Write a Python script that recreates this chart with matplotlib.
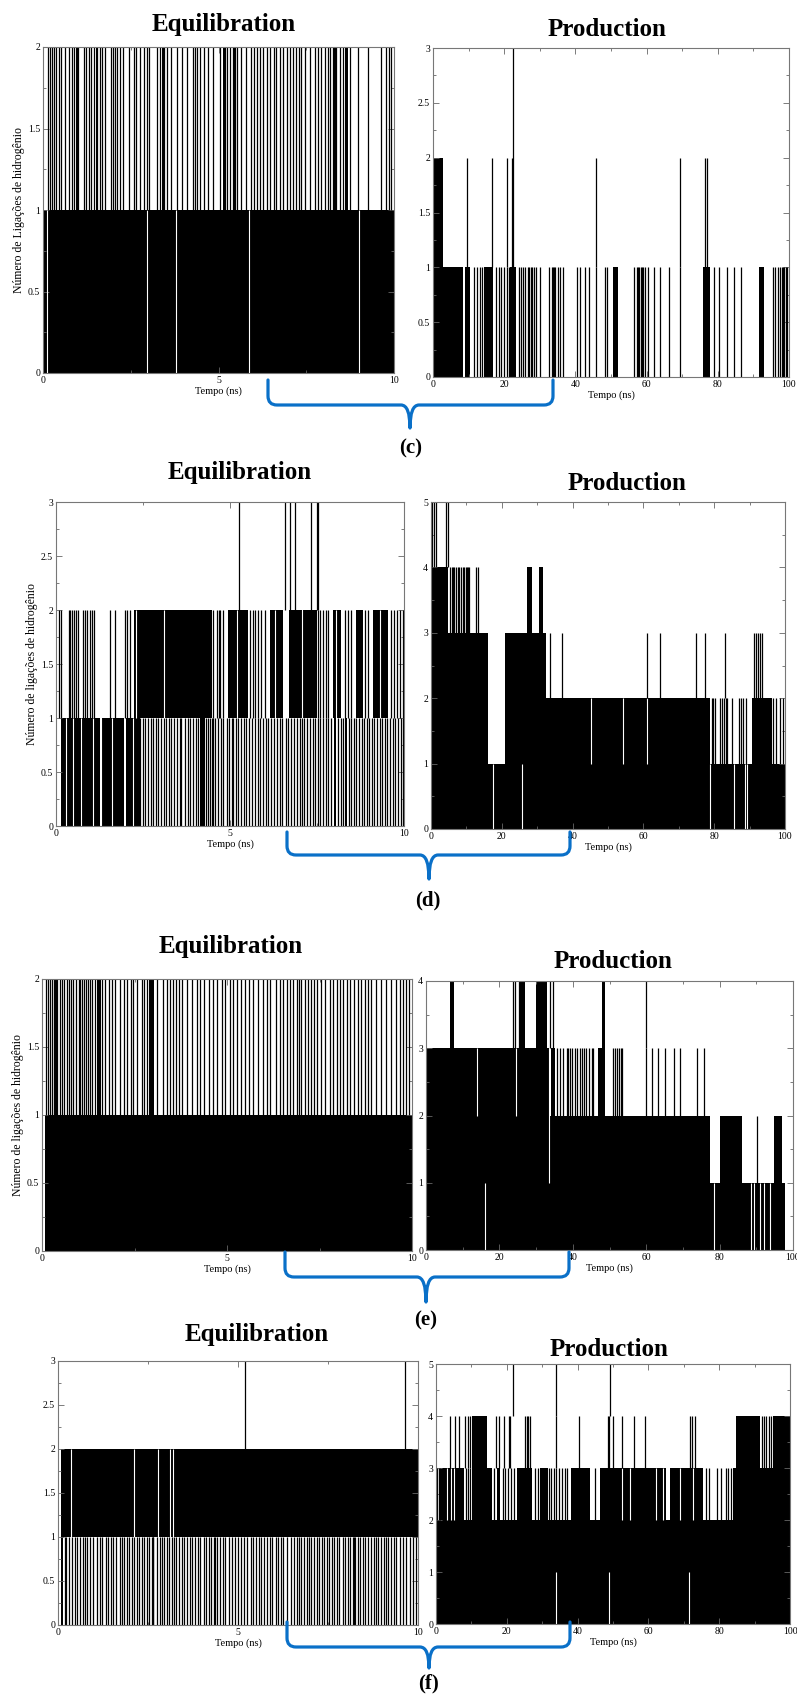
import matplotlib
matplotlib.use('Agg')
import matplotlib.pyplot as plt
from matplotlib.path import Path
from matplotlib.patches import PathPatch
from matplotlib.ticker import MultipleLocator, FuncFormatter

W, H = 797, 1698
plt.rcParams['font.family'] = ['Liberation Serif', 'DejaVu Serif']

# Hydrogen bond count traces.
# blocks: (t0, t1, n_lo, n_hi) regions that are solid black (dense switching)
# lines:  {(n_lo, n_hi): [times]} single transitions drawn as black strokes
# gaps:   {(n_lo, n_hi): [times]} white strokes inside a black block

# ---- (c) ----
c_eq_blocks = [(0.0, 10.0, 0, 1), (0.95, 1.02, 1, 2), (1.5, 1.58, 1, 2), (3.4, 3.47, 1, 2),
               (5.12, 5.2, 1, 2), (5.42, 5.5, 1, 2), (8.28, 8.36, 1, 2), (8.6, 8.7, 1, 2)]
c_eq_lines = {(1, 2): [0.13, 0.19, 0.26, 0.30, 0.38, 0.45, 0.51, 0.64, 0.73, 0.82, 0.89, 0.99,
                       1.18, 1.23, 1.30, 1.36, 1.44, 1.55, 1.61, 1.68, 1.77, 1.93, 1.99, 2.06,
                       2.12, 2.20, 2.27, 2.46, 2.58, 2.65, 2.75, 2.88, 2.96, 3.03, 3.24, 3.34,
                       3.45, 3.53, 3.64, 3.83, 3.95, 4.09, 4.27, 4.33, 4.40, 4.47, 4.59, 4.71,
                       4.85, 5.04, 5.18, 5.25, 5.33, 5.40, 5.47, 5.54, 5.63, 5.78, 5.94, 6.01,
                       6.09, 6.18, 6.27, 6.37, 6.48, 6.58, 6.65, 6.75, 6.84, 6.94, 7.05, 7.13,
                       7.22, 7.30, 7.36, 7.46, 7.60, 7.74, 7.84, 7.93, 8.03, 8.12, 8.17, 8.27,
                       8.36, 8.45, 8.55, 8.64, 8.74, 8.98, 9.26, 9.64, 9.78, 9.86, 9.92]}
c_eq_gaps = {(0, 1): [0.11, 2.95, 3.8, 5.86, 9.0]}

c_pr_blocks = [(0, 2.8, 0, 2), (2.8, 8.3, 0, 1), (8.9, 10.3, 0, 1), (14.4, 16.8, 0, 1),
               (21.7, 23.4, 0, 1), (50.7, 52.0, 0, 1), (75.8, 77.7, 0, 1), (91.5, 92.9, 0, 1)]
c_pr_lines = {(0, 1): [11.6, 12.4, 13.1, 13.8, 17.8, 18.4, 19.1, 19.9, 20.8, 21.3, 24.1, 24.7,
                       25.3, 25.9, 26.6, 27.0, 27.4, 27.8, 28.5, 29.0, 30.1, 32.5, 33.4, 33.8,
                       34.1, 34.4, 35.1, 35.6, 36.4, 40.4, 41.2, 42.8, 43.7, 45.8, 48.4, 49.0,
                       56.6, 57.2, 57.6, 58.0, 58.4, 58.7, 59.1, 59.6, 60.3, 62.0, 63.9, 66.2,
                       69.5, 78.8, 80.2, 82.6, 84.6, 86.5, 95.5, 96.2, 96.8, 97.5, 97.9, 98.3,
                       98.7, 99.1, 99.4],
              (1, 2): [9.5, 16.5, 20.9, 22.2, 45.8, 69.5, 76.5, 77.0],
              (0, 3): [22.4]}
c_pr_gaps = {}

# ---- (d) ----
d_eq_blocks = [(2.23, 4.47, 1, 2), (4.95, 5.53, 1, 2), (6.15, 6.53, 1, 2), (6.7, 7.06, 1, 2),
               (7.1, 7.49, 1, 2), (7.96, 8.2, 1, 2), (8.63, 8.82, 1, 2), (9.11, 9.54, 1, 2),
               (0.15, 1.27, 0, 1), (1.32, 1.95, 0, 1), (2.0, 2.4, 0, 1), (4.15, 4.28, 0, 1),
               (7.98, 8.06, 0, 1), (8.3, 8.36, 0, 1)]
d_eq_lines = {(1, 2): [0.10, 0.14, 0.36, 0.41, 0.46, 0.53, 0.58, 0.63, 0.79, 0.84, 0.89, 0.97,
                       1.03, 1.10, 1.56, 1.70, 1.99, 2.04, 2.12, 4.52, 4.62, 4.67, 4.71, 4.79,
                       5.57, 5.65, 5.73, 5.81, 5.9, 6.0, 7.53, 7.6, 7.68, 7.75, 7.82, 8.3, 8.4,
                       8.49, 8.87, 8.97, 9.64, 9.72, 9.8, 9.88, 9.96],
              (2, 3): [5.27, 6.58, 6.72, 6.86, 7.34, 7.49, 7.53],
              (0, 1): [2.42, 2.5, 2.57, 2.63, 2.72, 2.8, 2.86, 2.93, 3.02, 3.1, 3.16, 3.25, 3.31,
                       3.4, 3.47, 3.55, 3.6, 3.7, 3.78, 3.85, 3.93, 4.02, 4.08, 4.2, 4.3, 4.37,
                       4.42, 4.47, 4.52, 4.58, 4.66, 4.74, 4.8, 4.9, 4.97, 5.05, 5.1, 5.17, 5.24,
                       5.33, 5.41, 5.47, 5.55, 5.64, 5.72, 5.8, 5.86, 5.95, 6.03, 6.1, 6.18,
                       6.27, 6.36, 6.44, 6.5, 6.6, 6.68, 6.75, 6.83, 6.92, 7.0, 7.07, 7.14, 7.22,
                       7.3, 7.38, 7.45, 7.52, 7.6, 7.68, 7.75, 7.82, 7.9, 8.1, 8.18, 8.26, 8.41,
                       8.48, 8.55, 8.62, 8.7, 8.78, 8.85, 8.93, 9.0, 9.08, 9.15, 9.22, 9.3, 9.37,
                       9.45, 9.52, 9.6, 9.67, 9.74, 9.82, 9.9, 9.96]}
d_eq_gaps = {(1, 2): [2.3, 3.1, 5.2, 6.3, 7.08, 8.05, 9.3],
             (0, 1): [0.3, 0.48, 0.72, 1.05, 1.29, 1.6, 2.2]}

d_pr_blocks = [(0, 4.9, 0, 4), (4.9, 16.0, 0, 3), (16.0, 20.9, 0, 1), (20.9, 32.4, 0, 3),
               (27.2, 28.4, 3, 4), (30.5, 31.7, 3, 4), (32.4, 78.8, 0, 2), (78.8, 90.6, 0, 1),
               (90.6, 96.2, 0, 2), (96.2, 100, 0, 1)]
d_pr_lines = {(4, 5): [0.4, 0.8, 1.4, 4.2, 4.7],
              (3, 4): [5.4, 5.8, 6.2, 6.6, 7.1, 7.5, 8.0, 8.4, 8.9, 9.3, 9.8, 10.1, 10.5, 10.8,
                       12.7, 13.4],
              (2, 3): [33.6, 37.1, 61.1, 64.7, 74.9, 77.4, 83.1, 91.2, 91.7, 92.3, 92.8, 93.4],
              (1, 2): [79.3, 79.7, 80.2, 81.5, 82.1, 82.9, 83.2, 83.5, 84.9, 87.1, 87.5, 88.0,
                       89.0, 96.5, 97.5, 98.6, 99.3]}
d_pr_gaps = {(1, 2): [45.2, 54.1, 60.9],
             (0, 1): [17.6, 25.8, 78.9, 85.7, 88.7, 89.3]}

# ---- (e) ----
e_eq_blocks = [(0.09, 10.0, 0, 1), (0.36, 0.42, 1, 2), (1.48, 1.6, 1, 2), (2.88, 3.03, 1, 2)]
e_eq_lines = {(1, 2): [0.11, 0.15, 0.21, 0.27, 0.33, 0.40, 0.48, 0.54, 0.60, 0.67, 0.74, 0.78,
                       0.85, 0.93, 0.99, 1.03, 1.08, 1.14, 1.20, 1.24, 1.29, 1.35, 1.42, 1.53,
                       1.62, 1.71, 1.80, 1.89, 1.98, 2.11, 2.22, 2.29, 2.40, 2.47, 2.56, 2.70,
                       2.76, 2.83, 3.12, 3.28, 3.37, 3.46, 3.53, 3.62, 3.69, 3.78, 3.91, 4.05,
                       4.18, 4.27, 4.38, 4.50, 4.63, 4.74, 4.86, 4.95, 5.08, 5.17, 5.28, 5.37,
                       5.49, 5.60, 5.71, 5.85, 5.98, 6.07, 6.16, 6.32, 6.43, 6.52, 6.61, 6.70,
                       6.79, 6.88, 6.95, 7.01, 7.10, 7.19, 7.28, 7.35, 7.42, 7.55, 7.64, 7.78,
                       7.87, 7.96, 8.05, 8.14, 8.23, 8.32, 8.43, 8.54, 8.63, 8.72, 8.81, 8.90,
                       9.04, 9.17, 9.31, 9.44, 9.58, 9.67, 9.76, 9.85, 9.92]}
e_eq_gaps = {}

e_pr_blocks = [(0, 33.4, 0, 3), (6.5, 7.5, 3, 4), (25.6, 27.0, 3, 4), (30.0, 33.1, 3, 4),
               (33.4, 77.5, 0, 2), (34.0, 35.2, 2, 3), (47.0, 48.8, 2, 3), (47.9, 48.8, 3, 4),
               (77.5, 80.0, 0, 1), (80.0, 86.1, 0, 2), (86.1, 94.7, 0, 1), (94.7, 97.0, 0, 2),
               (97.0, 97.8, 0, 1)]
e_pr_lines = {(3, 4): [6.8, 7.2, 23.8, 24.2, 25.3, 33.8, 34.7, 60.0],
              (2, 3): [35.6, 36.5, 37.4, 38.3, 38.6, 39.2, 39.9, 40.6, 41.2, 41.9, 42.5, 43.0,
                       43.5, 44.4, 45.1, 45.6, 51.0, 51.5, 52.0, 52.5, 53.0, 53.4, 60.0, 61.5,
                       63.1, 65.2, 67.5, 69.1, 73.8, 75.8],
              (1, 2): [90.2]}
e_pr_gaps = {(0, 1): [16.1, 78.4, 88.5, 89.4, 91.1, 92.0, 93.8],
             (1, 3): [33.4],
             (2, 3): [14.0, 24.5]}

# ---- (f) ----
f_eq_blocks = [(0.07, 10.0, 1, 2), (0.07, 0.15, 0, 1)]
f_eq_lines = {(2, 3): [5.2, 9.64],
              (0, 1): [0.19, 0.23, 0.31, 0.40, 0.47, 0.53, 0.60, 0.70, 0.75, 0.81, 0.88, 0.98,
                       1.07, 1.16, 1.21, 1.33, 1.40, 1.46, 1.53, 1.61, 1.72, 1.77, 1.83, 1.91,
                       1.98, 2.05, 2.11, 2.19, 2.26, 2.33, 2.39, 2.47, 2.54, 2.60, 2.63, 2.65,
                       2.74, 2.84, 2.90, 2.95, 3.02, 3.07, 3.16, 3.23, 3.28, 3.35, 3.44, 3.51,
                       3.58, 3.66, 3.72, 3.81, 3.88, 3.95, 4.05, 4.12, 4.19, 4.25, 4.33, 4.36,
                       4.42, 4.51, 4.59, 4.65, 4.74, 4.84, 4.93, 5.00, 5.07, 5.16, 5.26, 5.35,
                       5.42, 5.49, 5.58, 5.65, 5.72, 5.81, 5.89, 5.95, 6.05, 6.11, 6.19, 6.26,
                       6.37, 6.47, 6.56, 6.63, 6.70, 6.76, 6.84, 6.91, 6.98, 7.04, 7.12, 7.19,
                       7.26, 7.32, 7.40, 7.47, 7.53, 7.60, 7.67, 7.75, 7.81, 7.91, 7.97, 8.05,
                       8.12, 8.19, 8.22, 8.25, 8.33, 8.40, 8.47, 8.53, 8.60, 8.70, 8.77, 8.84,
                       8.90, 8.98, 9.05, 9.12, 9.18, 9.26, 9.33, 9.40, 9.49, 9.58, 9.67, 9.77,
                       9.86, 9.95]}
f_eq_gaps = {(1, 2): [0.37, 2.12, 2.79, 3.12, 3.19]}

f_pr_blocks = [(0, 100, 0, 2), (1.5, 7.8, 2, 3), (10.2, 15.8, 2, 3), (17.2, 18.2, 2, 3),
               (23.0, 27.0, 2, 3), (29.5, 31.5, 2, 3), (38.1, 43.6, 2, 3), (46.2, 65.0, 2, 3),
               (66.1, 75.5, 2, 3), (84.0, 100, 2, 3), (10.2, 14.4, 3, 4), (84.8, 91.5, 3, 4),
               (95.3, 100, 3, 4)]
f_pr_lines = {(2, 3): [0.3, 0.8, 1.2, 8.5, 9.0, 9.6, 16.5, 18.8, 19.6, 20.4, 21.2, 22.0, 28.0,
                       28.7, 32.0, 32.5, 33.2, 34.0, 34.8, 35.5, 36.3, 37.0, 44.8, 76.2, 77.0,
                       79.5, 80.5, 81.8, 82.5, 83.3],
              (3, 4): [4.0, 5.5, 6.4, 8.3, 8.9, 9.7, 16.9, 17.7, 19.1, 20.5, 21.0, 25.2, 25.6,
                       26.0, 26.6, 33.9, 40.3, 48.5, 49.0, 50.1, 52.5, 56.0, 59.0, 71.8, 72.2,
                       73.2, 92.0, 92.6, 93.3, 94.0, 94.7],
              (4, 5): [21.7, 33.9, 49.2]}
f_pr_gaps = {(2, 3): [3.2, 4.2, 5.1, 52.5, 54.8, 62.1, 64.0, 69.0, 72.5],
             (0, 1): [33.9, 48.9, 71.6]}

ylab_c = 'Número de Ligações de hidrogênio'
ylab_de = 'Número de ligações de hidrogênio'

fig = plt.figure(figsize=(W / 100, H / 100), dpi=100)


def box(x0, y0, x1, y1):
    return [x0 / W, 1 - y1 / H, (x1 - x0) / W, (y1 - y0) / H]


def fmt(v, pos):
    return '%g' % v


def panel(rect, xmax, ymax, xmaj, ymaj, blocks, lines, gaps, ylabel=None):
    ax = fig.add_axes(box(*rect))
    for t0, t1, lo, hi in blocks:
        ax.fill_between([t0, t1], lo, hi, color='black', lw=0)
    for (lo, hi), ts in gaps.items():
        ax.vlines(ts, lo, hi, color='white', lw=0.8)
    for (lo, hi), ts in lines.items():
        ax.vlines(ts, lo, hi, color='black', lw=0.9)
    ax.set_xlim(0, xmax)
    ax.set_ylim(0, ymax)
    ax.xaxis.set_major_locator(MultipleLocator(xmaj))
    ax.xaxis.set_minor_locator(MultipleLocator(xmaj / 2))
    ax.yaxis.set_major_locator(MultipleLocator(ymaj))
    ax.yaxis.set_minor_locator(MultipleLocator(ymaj / 2))
    ax.xaxis.set_major_formatter(FuncFormatter(fmt))
    ax.yaxis.set_major_formatter(FuncFormatter(fmt))
    ax.tick_params(which='both', direction='in', top=True, right=True, color='#666666',
                   labelsize=7, width=0.6, pad=2)
    ax.tick_params(which='major', length=4)
    ax.tick_params(which='minor', length=2)
    for s in ax.spines.values():
        s.set_color('#777777')
        s.set_linewidth(0.8)
        s.set_zorder(5)
    ax.set_xlabel('Tempo (ns)', fontsize=7.5, labelpad=1)
    if ylabel:
        ax.set_ylabel(ylabel, fontsize=8.5, labelpad=2)
    return ax


panel((43, 47, 394, 373), 10, 2, 5, 0.5, c_eq_blocks, c_eq_lines, c_eq_gaps, ylab_c)
panel((433, 48, 789, 377), 100, 3, 20, 0.5, c_pr_blocks, c_pr_lines, c_pr_gaps)
panel((56, 502, 404, 826), 10, 3, 5, 0.5, d_eq_blocks, d_eq_lines, d_eq_gaps, ylab_de)
panel((431, 502, 785, 829), 100, 5, 20, 1, d_pr_blocks, d_pr_lines, d_pr_gaps)
panel((42, 979, 412, 1251), 10, 2, 5, 0.5, e_eq_blocks, e_eq_lines, e_eq_gaps, ylab_de)
panel((426, 981, 793, 1250), 100, 4, 20, 1, e_pr_blocks, e_pr_lines, e_pr_gaps)
panel((58, 1361, 418, 1625), 10, 3, 5, 0.5, f_eq_blocks, f_eq_lines, f_eq_gaps)
panel((436, 1364, 790, 1624), 100, 5, 20, 1, f_pr_blocks, f_pr_lines, f_pr_gaps)


def ftext(x, y, s, size):
    fig.text(x / W, 1 - y / H, s, ha='center', va='center', fontsize=size, fontweight='bold')


for x, y, s in [(224, 24, 'Equilibration'), (607, 29, 'Production'),
                (240, 473, 'Equilibration'), (627, 483, 'Production'),
                (231, 947, 'Equilibration'), (613, 962, 'Production'),
                (257, 1335, 'Equilibration'), (609, 1350, 'Production')]:
    ftext(x, y, s, 18)

for x, y, s in [(411, 448, '(c)'), (428, 900, '(d)'), (426, 1320, '(e)'), (429, 1683, '(f)')]:
    ftext(x, y, s, 15)


def brace(xl, xr, xc, ytop, ymid, ybot, r=9):
    pts = [(xl, ytop), (xl, ymid - r), (xl, ymid), (xl + r, ymid), (xc - r, ymid), (xc, ymid),
           (xc, ybot), (xc, ymid), (xc + r, ymid), (xr - r, ymid), (xr, ymid), (xr, ymid - r),
           (xr, ytop)]
    codes = [Path.MOVETO, Path.LINETO, Path.CURVE3, Path.CURVE3, Path.LINETO, Path.CURVE3,
             Path.CURVE3, Path.CURVE3, Path.CURVE3, Path.LINETO, Path.CURVE3, Path.CURVE3,
             Path.LINETO]
    verts = [(x / W, 1 - y / H) for x, y in pts]
    fig.patches.append(PathPatch(Path(verts, codes), transform=fig.transFigure, fill=False,
                                 edgecolor='#0a70c8', lw=2.3, capstyle='round', joinstyle='round'))


brace(268, 553, 410, 380, 405, 428)
brace(287, 570, 429, 832, 855, 879)
brace(285, 569, 426, 1252, 1277, 1302)
brace(287, 570, 429, 1622, 1647, 1668)

fig.savefig('out.png', dpi=100)
